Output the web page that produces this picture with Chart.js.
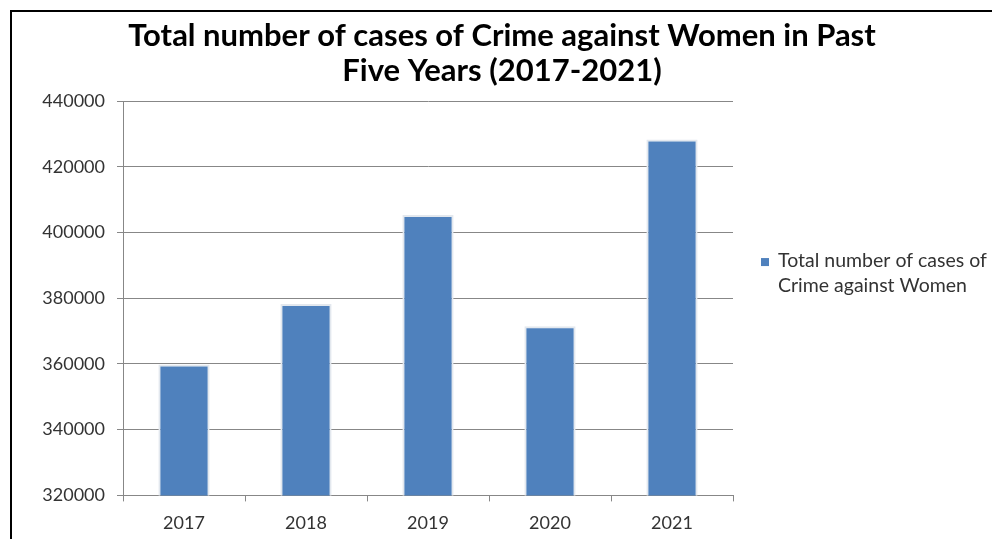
<!DOCTYPE html>
<html>
<head>
<meta charset="utf-8">
<script src="https://cdn.jsdelivr.net/npm/chart.js@4"></script>
<style>
  html, body { margin: 0; padding: 0; background: #fff; overflow: hidden; }
  #frame {
      position: absolute; left: 10px; top: 10px;
      width: 990px; height: 540px;
      border-top: 2px solid #000; border-left: 2px solid #000;
  }
  #wrap { position: absolute; left: 12px; top: 12px; width: 980px; height: 540px; }
</style>
</head>
<body>
<div id="frame"></div>
<div id="wrap"><canvas id="crimeChart" width="980" height="540"></canvas></div>
<script>
// البيانات
const years       = ['2017', '2018', '2019', '2020', '2021'];
const totalCases  = [359849, 378236, 405326, 371503, 428278];
const titleLines  = ['Total number of cases of Crime against Women in Past', 'Five Years (2017-2021)'];
const legendLines = ['Total number of cases of', 'Crime against Women'];
const yMin = 320000, yMax = 440000, yStep = 20000;

const BLUE = '#4F81BD';
const GRID = '#878787';

// وسيلة الإيضاح على اليمين بسطرين
const sideLegend = {
    id: 'sideLegend',
    afterDraw(chart) {
        const ctx  = chart.ctx;
        const area = chart.chartArea;
        const ds   = chart.data.datasets[0];
        const x0   = area.right + 28;
        const y0   = area.top + 166;
        ctx.save();
        ctx.fillStyle = ds.backgroundColor;
        ctx.fillRect(x0, y0 - 9, 8, 8);
        ctx.fillStyle = '#333';
        ctx.font = '19.5px Lato';
        ctx.textBaseline = 'alphabetic';
        ctx.fillText(legendLines[0], x0 + 17, y0);
        ctx.fillText(legendLines[1], x0 + 17, y0 + 25);
        ctx.restore();
    }
};

const ctx1 = document.getElementById('crimeChart').getContext('2d');
new Chart(ctx1, {
    type: 'bar',
    data: {
        labels: years,
        datasets: [{
            label: legendLines.join(' '),
            data: totalCases,
            yAxisID: 'y',
            backgroundColor: BLUE,
            borderColor: '#e3e8ee',
            borderWidth: { top: 2, left: 2, right: 2, bottom: 0 },
            borderSkipped: 'bottom',
            barPercentage: 0.42,
            categoryPercentage: 1,
        }]
    },
    options: {
        responsive: false,
        animation: false,
        devicePixelRatio: 1,
        layout: { padding: { left: 0, right: 0, top: 0, bottom: 7 } },
        plugins: {
            legend: { display: false },
            tooltip: { enabled: false },
            title: {
                display: true,
                text: titleLines,
                color: '#000',
                font: { family: 'Lato', size: 31, weight: 'bold', lineHeight: 1.13 },
                padding: { top: 6, bottom: 13 }
            }
        },
        scales: {
            x: {
                grid: { drawOnChartArea: false, drawTicks: true, tickLength: 6, color: GRID, offset: true },
                border: { color: GRID, width: 1 },
                ticks: { color: '#333', font: { family: 'Lato', size: 18 }, padding: 11 }
            },
            y: {
                min: yMin, max: yMax,
                afterFit: s => { s.width = 111; },
                grid: { color: GRID, tickLength: 6 },
                border: { color: GRID, width: 1 },
                ticks: {
                    stepSize: yStep, color: '#333', font: { family: 'Lato', size: 18 }, padding: 12,
                    callback: v => String(v)
                }
            },
            // مساحة فارغة لوسيلة الإيضاح
            side: {
                type: 'linear', position: 'right',
                afterFit: s => { s.width = 259; },
                grid: { display: false },
                border: { display: false },
                ticks: { display: false }
            }
        }
    },
    plugins: [sideLegend]
});
</script>
</body>
</html>
